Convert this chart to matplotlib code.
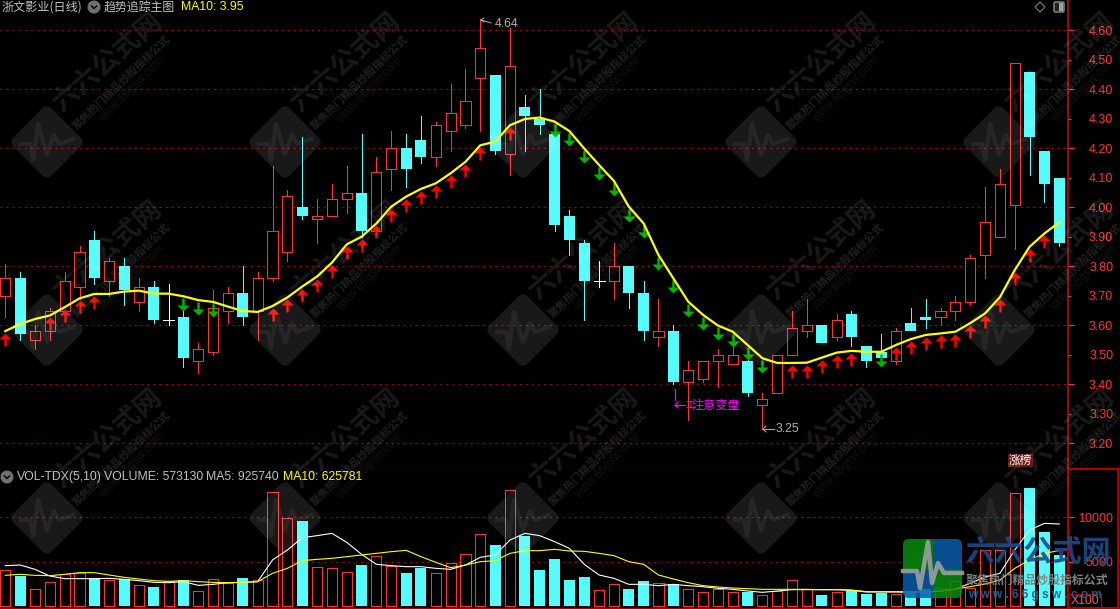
import matplotlib
matplotlib.use("Agg")
import numpy as np
import matplotlib.pyplot as plt
from matplotlib.patches import FancyBboxPatch, Rectangle, Polygon
from matplotlib.path import Path
from matplotlib.transforms import Affine2D, IdentityTransform
from matplotlib.lines import Line2D

plt.rcParams['font.family'] = ['Noto Sans CJK SC', 'DejaVu Sans']

# 日线数据
opens = [3.70, 3.76, 3.55, 3.58, 3.65, 3.73, 3.89, 3.75, 3.80, 3.68, 3.73, 3.62,
         3.63, 3.48, 3.51, 3.65, 3.71, 3.65, 3.76, 3.85, 4.00, 3.96, 3.97, 4.03,
         4.05, 3.92, 4.13, 4.20, 4.23, 4.17, 4.26, 4.28, 4.44, 4.45, 4.18, 4.34,
         4.30, 4.25, 3.97, 3.88, 3.75, 3.75, 3.80, 3.71, 3.56, 3.58, 3.41, 3.42,
         3.48, 3.47, 3.48, 3.33, 3.37, 3.50, 3.58, 3.60, 3.56, 3.64, 3.53, 3.51,
         3.48, 3.61, 3.63, 3.63, 3.65, 3.68, 3.84, 3.90, 4.01, 4.46, 4.19, 4.10]
closes = [3.76, 3.57, 3.58, 3.65, 3.75, 3.85, 3.76, 3.82, 3.72, 3.73, 3.62, 3.62,
          3.49, 3.52, 3.66, 3.71, 3.63, 3.76, 3.92, 4.04, 3.97, 3.97, 4.03, 4.05,
          3.92, 4.12, 4.20, 4.13, 4.17, 4.28, 4.32, 4.36, 4.54, 4.19, 4.48, 4.31,
          4.28, 3.94, 3.89, 3.75, 3.75, 3.80, 3.71, 3.58, 3.58, 3.41, 3.45, 3.48,
          3.50, 3.50, 3.37, 3.35, 3.50, 3.59, 3.60, 3.54, 3.62, 3.56, 3.48, 3.49,
          3.58, 3.58, 3.62, 3.65, 3.68, 3.83, 3.95, 4.08, 4.49, 4.24, 4.08, 3.88]
highs = [3.81, 3.78, 3.60, 3.66, 3.78, 3.87, 3.92, 3.83, 3.83, 3.76, 3.75, 3.74,
         3.65, 3.54, 3.72, 3.73, 3.80, 3.78, 4.14, 4.06, 4.24, 4.03, 4.08, 4.14,
         4.25, 4.17, 4.26, 4.25, 4.31, 4.29, 4.42, 4.47, 4.64, 4.45, 4.61, 4.38,
         4.40, 4.28, 3.99, 3.89, 3.82, 3.88, 3.80, 3.75, 3.69, 3.60, 3.48, 3.48,
         3.52, 3.53, 3.49, 3.37, 3.50, 3.65, 3.69, 3.60, 3.64, 3.65, 3.53, 3.57,
         3.59, 3.66, 3.69, 3.66, 3.70, 3.84, 4.07, 4.13, 4.49, 4.46, 4.19, 4.10]
lows = [3.63, 3.55, 3.52, 3.55, 3.64, 3.69, 3.74, 3.70, 3.67, 3.65, 3.61, 3.60,
        3.46, 3.44, 3.50, 3.61, 3.60, 3.55, 3.75, 3.82, 3.96, 3.88, 3.97, 3.98,
        3.90, 3.90, 4.06, 4.07, 4.15, 4.14, 4.19, 4.27, 4.26, 4.18, 4.11, 4.19,
        4.25, 3.92, 3.84, 3.62, 3.73, 3.69, 3.66, 3.55, 3.53, 3.40, 3.28, 3.41,
        3.39, 3.47, 3.36, 3.25, 3.37, 3.50, 3.56, 3.54, 3.55, 3.53, 3.46, 3.49,
        3.47, 3.58, 3.59, 3.60, 3.62, 3.67, 3.76, 3.90, 3.86, 4.11, 4.02, 3.87]
ma10 = [3.581, 3.605, 3.622, 3.634, 3.662, 3.692, 3.707, 3.707, 3.715, 3.718, 3.708, 3.708,
        3.699, 3.686, 3.680, 3.664, 3.649, 3.646, 3.666, 3.695, 3.732, 3.766, 3.813, 3.875,
        3.901, 3.946, 4.003, 4.037, 4.063, 4.082, 4.116, 4.155, 4.211, 4.223, 4.279, 4.300,
        4.305, 4.291, 4.259, 4.200, 4.144, 4.090, 4.003, 3.946, 3.839, 3.760, 3.681, 3.636,
        3.600, 3.579, 3.534, 3.489, 3.473, 3.473, 3.474, 3.491, 3.508, 3.514, 3.511, 3.511,
        3.534, 3.554, 3.568, 3.573, 3.579, 3.608, 3.641, 3.696, 3.788, 3.867, 3.912, 3.950]

# 成交量 (X100)
volumes = [4025, 3386, 1881, 2671, 3612, 3762, 3010, 2897, 3047, 2332, 2144, 2859,
           2934, 1655, 3010, 2558, 3160, 2897, 12828, 9932, 9593, 4364, 4251, 3800,
           4627, 5643, 4552, 3724, 4289, 3687, 4815, 5831, 8088, 6884, 13054, 7900,
           4063, 5304, 2934, 3273, 1768, 2445, 1919, 2822, 2558, 2445, 1881, 1542,
           1881, 1542, 1618, 1204, 1731, 2897, 1881, 1241, 1542, 1768, 1354, 1430,
           1392, 1505, 1919, 1994, 2784, 2069, 6283, 6283, 12716, 13317, 8352, 5731]
vol_ma5 = [4552, 4627, 4138, 3386, 3085, 3085, 3085, 3122, 3010, 2859, 2671, 2633,
           2746, 2332, 2445, 2633, 2671, 2746, 5192, 6320, 7712, 7938, 8201, 7185,
           5831, 4703, 4552, 4439, 4439, 4251, 4138, 4627, 5493, 5756, 7449, 8201,
           7938, 7261, 6508, 4703, 3499, 3122, 2445, 2445, 2295, 2445, 2295, 2182,
           1994, 1881, 1693, 1542, 1693, 1843, 1843, 1843, 1843, 1768, 1580, 1580,
           1580, 1542, 1580, 1693, 1919, 2558, 3273, 3687, 6320, 8577, 9330, 9257]
vol_ma10 = [3461, 3574, 3461, 3423, 3574, 3762, 3762, 3499, 3235, 3047, 2859, 2784,
            2859, 2746, 2671, 2633, 2671, 2746, 3687, 4251, 5116, 5267, 5380, 5568,
            5756, 5944, 6132, 6283, 5568, 4928, 4326, 4627, 5003, 5116, 5944, 6245,
            6245, 6395, 6207, 6170, 5944, 5681, 5003, 4703, 3499, 3047, 2633, 2295,
            2144, 2031, 1956, 1881, 1881, 1881, 1881, 1843, 1843, 1806, 1618, 1618,
            1618, 1618, 1618, 1655, 1919, 2182, 2483, 2934, 4251, 5192, 5944, 6258]

up_signals = [0, 3, 4, 5, 6, 18, 19, 20, 21, 22, 23, 24, 25, 26, 27, 28, 29, 30, 31, 32, 34,
              53, 54, 55, 56, 57, 60, 61, 62, 63, 64, 65, 66, 67, 68, 69, 70]
down_signals = [12, 13, 14, 37, 38, 39, 40, 41, 42, 43, 44, 45, 46, 47, 48, 49, 50, 51, 59]

price_ticks = [3.2, 3.3, 3.4, 3.5, 3.6, 3.7, 3.8, 3.9, 4.0, 4.1, 4.2, 4.3, 4.4, 4.5, 4.6]
price_grid = [3.2, 3.4, 3.6, 3.8, 4.0, 4.2, 4.4, 4.6]
vol_ticks = [5000, 10000]

RED = '#ff3232'
CYAN = '#54fcfc'
DARK = '#a80000'
GREY = '#c0c0c0'
CJK = ['Noto Sans CJK SC', 'DejaVu Sans']
LAT = ['Liberation Sans', 'DejaVu Sans']

W, H = 1120, 609
AXIS_X = 1068.3
SPLIT_Y = 468.3
PITCH = 14.845

fig = plt.figure(figsize=(W / 100, H / 100), dpi=100, facecolor='black')
ax = fig.add_axes([0, 1 - SPLIT_Y / H, AXIS_X / W, SPLIT_Y / H], facecolor='black')
vol = fig.add_axes([0, 1 - 608 / H, AXIS_X / W, (608 - SPLIT_Y) / H], facecolor='black')

x = np.arange(len(opens))
o = np.array(opens)
c = np.array(closes)
h = np.array(highs)
l = np.array(lows)
top = np.maximum(o, c)
bot = np.minimum(o, c)
rising = c > o
falling = c < o
flat = c == o
xlim = (-5.3 / PITCH, (AXIS_X - 5.3) / PITCH)

# K线
for mask, col in [(rising, RED), (falling, CYAN), (flat, 'white')]:
    ax.vlines(x[mask], top[mask], h[mask], color=col, lw=0.72, antialiased=False, zorder=2)
    ax.vlines(x[mask], l[mask], bot[mask], color=col, lw=0.72, antialiased=False, zorder=2)
ax.bar(x[rising], (c - o)[rising], bottom=o[rising], width=0.68, facecolor='black',
       edgecolor=RED, linewidth=0.72, antialiased=False, zorder=3)
ax.bar(x[falling], (o - c)[falling], bottom=c[falling], width=0.74, color=CYAN,
       linewidth=0, antialiased=False, zorder=3)
ax.hlines(c[flat], x[flat] - 0.37, x[flat] + 0.37, color='white', lw=0.72, antialiased=False, zorder=3)

# 买卖箭头, 直接贴在 MA10 下方
up_path = Path([(-1.2, -15), (-1.2, -8), (-6, -8), (0, -2), (6, -8), (1.2, -8), (1.2, -15), (-1.2, -15)], closed=True)
down_path = Path([(-1.2, -2), (-1.2, -9), (-6, -9), (0, -15), (6, -9), (1.2, -9), (1.2, -2), (-1.2, -2)], closed=True)
ma = np.array(ma10)
ax.plot(x[up_signals], ma[up_signals], ls='none', marker=up_path, ms=21.6, mfc='#ff0000', mew=0, zorder=4)
ax.plot(x[down_signals], ma[down_signals], ls='none', marker=down_path, ms=21.6, mfc='#00b400', mew=0, zorder=4)
ax.plot(x, ma, color='#ffff00', lw=1.6, zorder=5)

ax.set_xlim(xlim)
ax.set_ylim(4.60 - (SPLIT_Y - 30.5) / 295, 4.60 + 30.5 / 295)
ax.yaxis.tick_right()
ax.yaxis.remove_overlapping_locs = False
ax.set_yticks(price_ticks, [f'{v:.2f}' for v in price_ticks])
ax.set_yticks(price_grid, minor=True)
ax.set_xticks([])
ax.tick_params(axis='y', which='major', length=2.2, width=0.8, color=RED, labelcolor=RED, pad=30.2)
ax.tick_params(axis='y', which='minor', length=4.5, width=0.8, color=RED)
ax.grid(axis='y', which='minor', color='#c00000', lw=0.8, ls=(0, (1.5, 4)))
ax.set_axisbelow(True)
for t in ax.get_yticklabels():
    t.set_ha('right')
    t.set_family(LAT)
    t.set_fontsize(9)
for s in ['top', 'left']:
    ax.spines[s].set_visible(False)
ax.spines['right'].set_color('#c01010')
ax.spines['bottom'].set_color(DARK)
ax.spines['right'].set_linewidth(1.1)
ax.spines['bottom'].set_linewidth(0.8)

# 成交量
vols = np.array(volumes)
up_day = c >= o
vol.bar(x[up_day], vols[up_day], width=0.68, facecolor='black', edgecolor=RED, linewidth=0.72,
        antialiased=False, zorder=2)
vol.bar(x[~up_day], vols[~up_day], width=0.74, color=CYAN, linewidth=0, antialiased=False, zorder=2)
vol.plot(x, vol_ma5, color='white', lw=0.8, zorder=3)
vol.plot(x, vol_ma10, color='#ffff00', lw=0.8, zorder=4)
vol.set_xlim(xlim)
vol.set_ylim(-226, 15542)
vol.yaxis.tick_right()
vol.set_yticks(vol_ticks, [str(v) for v in vol_ticks])
vol.set_xticks([])
vol.tick_params(axis='y', length=4.5, width=0.8, color=RED, labelcolor=RED, pad=27.9)
vol.grid(axis='y', color='#c00000', lw=0.8, ls=(0, (1.5, 4)))
vol.set_axisbelow(True)
for t in vol.get_yticklabels():
    t.set_ha('right')
    t.set_family(LAT)
    t.set_fontsize(9)
for s in ['left', 'top']:
    vol.spines[s].set_visible(False)
vol.spines['right'].set_color('#c01010')
vol.spines['right'].set_linewidth(1.1)
vol.spines['bottom'].set_color(DARK)


def label(px, py, s, color=GREY, size=8.6, family=CJK, **kw):
    kw.setdefault('va', 'center')
    return fig.text(px / W, 1 - py / H, s, color=color, fontsize=size, family=family, **kw)


def pixel_poly(points, **kw):
    fig.add_artist(Polygon([(a, H - b) for a, b in points], transform=IdentityTransform(), **kw))


def pixel_line(xs, ys, **kw):
    fig.add_artist(Line2D(xs, [H - b for b in ys], transform=IdentityTransform(), **kw))


def icon(px, py):
    fig.add_artist(plt.Circle((px, H - py), 5.8, color='#707070', transform=IdentityTransform()))
    pixel_line([px - 2.5, px, px + 2.5], [py - 1, py + 1.5, py - 1], color='black', lw=1)


# 标题
label(2, 7, '浙文影业(日线)', size=8.7)
icon(94, 7)
label(104, 7, '趋势追踪主图', size=8.6)
label(181, 7, 'MA10: 3.95', color='#ffff00', family=LAT, size=8.8)
pixel_poly([(1040, 2), (1045, 7), (1040, 12), (1035, 7)], fill=False, ec='#909090', lw=0.7)
fig.add_artist(FancyBboxPatch((1054, H - 12), 10, 10, boxstyle='round,pad=0,rounding_size=1.5', fc='#202020',
                              ec='#909090', lw=1, transform=IdentityTransform()))
fig.add_artist(Rectangle((1059, H - 11), 4, 8, fc='#a0a0a0', ec='none', transform=IdentityTransform()))

icon(7, 477)
label(17, 477, 'VOL-TDX(5,10)', family=LAT, size=8.8)
label(104, 477, 'VOLUME: 573130', family=LAT, size=8.8)
label(206, 477, 'MA5: 925740', family=LAT, size=8.8)
label(283, 477, 'MA10: 625781', color='#ffff00', family=LAT, size=8.8)

# 高低点标注
label(495, 24, '4.64', family=LAT, size=8.8, color='#b0b0b0')
pixel_line([481, 491], [20, 23], color='#b0b0b0', lw=0.7)
pixel_line([484, 481, 484], [18, 20, 22], color='#b0b0b0', lw=0.7)
label(776, 429, '3.25', family=LAT, size=8.8, color='#b0b0b0')
pixel_line([763, 774], [429, 429], color='#b0b0b0', lw=0.7)
pixel_line([766, 763, 766], [426, 429, 432], color='#b0b0b0', lw=0.7)

# 注意变盘
pixel_line([674.7, 674.7], [389, 400], color='#ff00ff', lw=0.9)
pixel_line([675, 685], [405, 405], color='#ff00ff', lw=0.9)
pixel_line([678, 675, 678], [402, 405, 408], color='#ff00ff', lw=0.9)
label(685, 405, '工', color='#ff00ff', size=7)
label(691.5, 405, '注意变盘', color='#ff00ff', size=8.7)

# 涨榜
fig.add_artist(Rectangle((1008, H - 467), 25, 13, fc='#6b1a10', ec='none', transform=IdentityTransform()))
label(1020.5, 460.5, '涨榜', color='white', size=8.4, ha='center')

# 右下坐标框
fig.add_artist(Rectangle((AXIS_X, H - 607.5), 49.7, 138.5, fill=False, ec='#b00000', lw=1.4,
                         transform=IdentityTransform()))
fig.add_artist(Rectangle((AXIS_X, H - 607.5), 33, 14, fill=False, ec='#b00000', lw=0.8,
                         transform=IdentityTransform()))
label(1071, 600.5, 'X100', color='#ff5050', family=LAT, size=8.8)


# 水印
def watermark(cx, cy):
    base = Affine2D().rotate_deg_around(cx, H - cy, 45)
    fig.add_artist(FancyBboxPatch((cx - 27, H - cy - 27), 54, 54, boxstyle='round,pad=0,rounding_size=7',
                                  fc='white', ec='none', alpha=0.1,
                                  transform=base + IdentityTransform()))
    pts = [(-26, 2), (-17, 2), (-14, 18), (-9, -18), (0, 12), (7, -7), (12, 2), (26, -3)]
    pixel_line([cx + a for a, b in pts], [cy + b for a, b in pts], color='white', lw=3, alpha=0.06)
    fig.text((cx + 60) / W, 1 - (cy - 79) / H, '六六公式网', color='white', alpha=0.1, fontsize=19.5,
             family=CJK, weight='bold', rotation=41, ha='center', va='center', rotation_mode='anchor')
    fig.text((cx + 75) / W, 1 - (cy - 60) / H, '聚焦热门精品炒股指标公式', color='white', alpha=0.13, fontsize=7.8,
             family=CJK, weight='bold', rotation=44, ha='center', va='center', rotation_mode='anchor')
    fig.text((cx + 85) / W, 1 - (cy - 52) / H, 'www.66gsw.com', color='white', alpha=0.08, fontsize=8.5,
             family=LAT, rotation=45, ha='center', va='center', rotation_mode='anchor')


for cy in [142, 330, 518]:
    for cx in [47, 285, 523, 761, 999]:
        watermark(cx, cy)

# 右下角站标
clip = FancyBboxPatch((903, H - 598), 59, 59, boxstyle='round,pad=0,rounding_size=6', fc='none', ec='none',
                      transform=IdentityTransform())
fig.add_artist(clip)
quads = [(903, H - 569, 29.5, 30, '#0a8a10'), (932.5, H - 569, 29.5, 30, '#0a5ca8'),
         (903, H - 598, 29.5, 29, '#0a5ca8'), (932.5, H - 598, 29.5, 29, '#0a8a10')]
for qx, qy, qw, qh, qc in quads:
    r = Rectangle((qx, qy), qw, qh, fc=qc, ec='none', alpha=0.85, transform=IdentityTransform())
    fig.add_artist(r)
    r.set_clip_path(clip)
pixel_line([903, 917, 920, 928, 932, 938, 944, 962], [571, 571, 588, 542, 583, 563, 573, 573],
           color='#9aa0a0', lw=3.2, alpha=0.9)
fig.text(1038 / W, 1 - 552 / H, '六六公式网', color='#1e4a8a', alpha=0.9, fontsize=21, family=CJK,
         weight='bold', ha='center', va='center')
fig.text(1037 / W, 1 - 580 / H, '聚焦热门精品炒股指标公式', color='#808080', fontsize=8.6, family=CJK,
         weight='bold', ha='center', va='center')
fig.text(1035 / W, 1 - 595 / H, 'w w w . 6 6 g s w . c o m', color='#2a5a90', fontsize=8.6, family=LAT,
         weight='bold', ha='center', va='center', alpha=0.95)

fig.savefig('out.png', dpi=100, facecolor='black')
